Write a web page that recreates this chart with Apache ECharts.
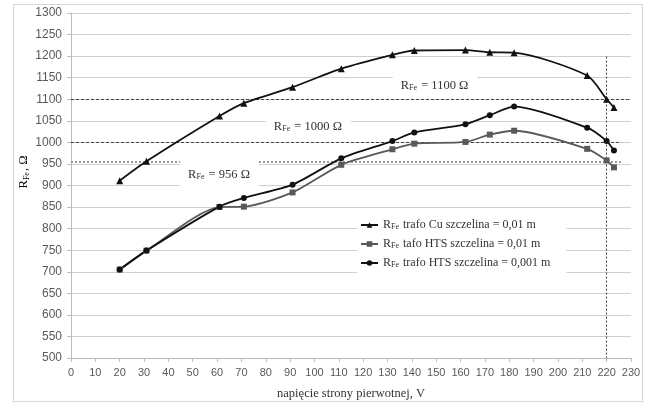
<!DOCTYPE html>
<html>
<head>
<meta charset="utf-8">
<script src="https://cdn.jsdelivr.net/npm/echarts@6/dist/echarts.min.js"></script>
<style>html,body{margin:0;padding:0;background:#fff}#c{width:648px;height:405px}</style>
</head>
<body>
<div id="c"></div>
<script>
// ---- data ----
var voltage = [20, 31, 61, 71, 91, 111, 132, 141, 162, 172, 182, 212, 220, 223];
var rCu     = [911, 956, 1061, 1091, 1128, 1171, 1203, 1213, 1214, 1209, 1208, 1155, 1100, 1081];
var rHts01  = [705, 749, 850, 851, 884, 948, 984, 997, 1001, 1018, 1027, 985, 958, 942];
var rHts001 = [705, 749, 851, 871, 902, 963, 1003, 1023, 1042, 1063, 1083, 1034, 1003, 981];
var seriesNames = [
  '{b|R}{s|Fe}{b| trafo Cu szczelina = 0,01 m}',
  '{b|R}{s|Fe}{b| tafo HTS szczelina = 0,01 m}',
  '{b|R}{s|Fe}{b| trafo HTS szczelina = 0,001 m}'
];
var refValues = [1100, 1000, 956];
var refLabels = ['{b|R}{s|Fe}{b| = 1100 Ω}', '{b|R}{s|Fe}{b| = 1000 Ω}', '{b|R}{s|Fe}{b| = 956 Ω}'];
var refLabelPos = [[149.5, 1132], [97.5, 1036], [61, 926]];
var verticalRef = 220;
var xTicks = {min: 0, max: 230, interval: 10};
var yTicks = {min: 500, max: 1300, interval: 50};

function pairs(xs, ys) { return xs.map(function (x, i) { return [x, ys[i]]; }); }

var serif = 'Liberation Serif';
var rich = {
  b: {fontFamily: serif, fontSize: 12, color: '#333', lineHeight: 14},
  s: {fontFamily: serif, fontSize: 8, color: '#333', lineHeight: 14, verticalAlign: 'bottom', padding: [0, 1, 1, 0]}
};
var richLbl = {
  b: {fontFamily: serif, fontSize: 12.5, color: '#333', lineHeight: 15},
  s: {fontFamily: serif, fontSize: 8, color: '#333', lineHeight: 15, verticalAlign: 'bottom', padding: [0, 1, 1, 0]}
};

var chart = echarts.init(document.getElementById('c'), null, {renderer: 'canvas'});

var lineCommon = {type: 'line', smooth: 0.25, symbolSize: 6, z: 5};

chart.setOption({
  animation: false,
  backgroundColor: '#fff',
  grid: {left: 71, right: 17, top: 13, bottom: 42},
  xAxis: {
    type: 'value', min: xTicks.min, max: xTicks.max, interval: xTicks.interval,
    axisLine: {show: true, lineStyle: {color: '#bcbcbc'}},
    axisTick: {show: true, length: 4, lineStyle: {color: '#bcbcbc'}},
    splitLine: {show: false},
    axisLabel: {fontFamily: 'Liberation Sans', fontSize: 11, color: '#595959', margin: 9},
    name: 'napięcie strony pierwotnej, V', nameLocation: 'middle', nameGap: 29,
    nameTextStyle: {fontFamily: serif, fontSize: 12.5, color: '#333'}
  },
  yAxis: {
    type: 'value', min: yTicks.min, max: yTicks.max, interval: yTicks.interval,
    axisLine: {show: true, lineStyle: {color: '#bcbcbc'}},
    axisTick: {show: true, length: 4, lineStyle: {color: '#bcbcbc'}},
    splitLine: {show: true, lineStyle: {color: '#cfcfcf', width: 1}},
    axisLabel: {fontFamily: 'Liberation Sans', fontSize: 12, color: '#595959', margin: 9,
      formatter: function (v) { return String(v); }}
  },
  legend: {
    data: seriesNames, orient: 'vertical', left: 357, top: 215,
    backgroundColor: '#fff', padding: [4, 16, 5, 3],
    itemWidth: 17, itemHeight: 7, itemGap: 6,
    formatter: function (n) { return n; },
    textStyle: {rich: rich}
  },
  graphic: [
    {type: 'rect', shape: {x: 13.5, y: 4.5, width: 629, height: 397}, style: {fill: null, stroke: '#d6d6d6', lineWidth: 1}, z: 0, silent: true},
    {type: 'text', x: 24, y: 172, rotation: Math.PI / 2, style: {text: '{b|R}{s|Fe}{b|, Ω}', rich: richLbl, align: 'center', verticalAlign: 'middle'}, z: 10}
  ],
  series: [
    Object.assign({}, lineCommon, {
      name: seriesNames[0], data: pairs(voltage, rCu), symbol: 'triangle', symbolSize: 7,
      itemStyle: {color: '#111'}, lineStyle: {color: '#111', width: 1.8}
    }),
    Object.assign({}, lineCommon, {
      name: seriesNames[1], data: pairs(voltage, rHts01), symbol: 'rect', symbolSize: 6,
      itemStyle: {color: '#595959'}, lineStyle: {color: '#595959', width: 1.8}
    }),
    Object.assign({}, lineCommon, {
      name: seriesNames[2], data: pairs(voltage, rHts001), symbol: 'circle', symbolSize: 6,
      itemStyle: {color: '#111'}, lineStyle: {color: '#111', width: 1.8}
    }),
    {
      type: 'line', name: 'refs', data: [], z: 3, silent: true,
      markLine: {
        silent: true, symbol: ['none', 'none'], label: {show: false}, animation: false,
        data: [
          [{coord: [0, refValues[0]], lineStyle: {color: '#444', type: [3, 2], width: 1}}, {coord: [230, refValues[0]]}],
          [{coord: [0, refValues[1]], lineStyle: {color: '#444', type: [3, 2], width: 1}}, {coord: [226, refValues[1]]}],
          [{coord: [0, refValues[2]], lineStyle: {color: '#9a9a9a', type: [2, 2], width: 2}}, {coord: [226, refValues[2]]}],
          [{coord: [verticalRef, 1199], lineStyle: {color: '#444', type: [2, 2], width: 1}}, {coord: [verticalRef, 500]}]
        ]
      }
    },
    {
      type: 'line', name: 'refLabels', data: [], z: 4, silent: true,
      markPoint: {
        silent: true, symbol: 'rect', symbolSize: 0, animation: false,
        label: {show: true, position: 'inside', backgroundColor: '#fff', padding: [6, 9, 6, 8], rich: richLbl},
        data: refLabelPos.map(function (p, i) { return {coord: p, value: refLabels[i], label: {formatter: refLabels[i]}}; })
      }
    }
  ]
});
</script>
</body>
</html>
